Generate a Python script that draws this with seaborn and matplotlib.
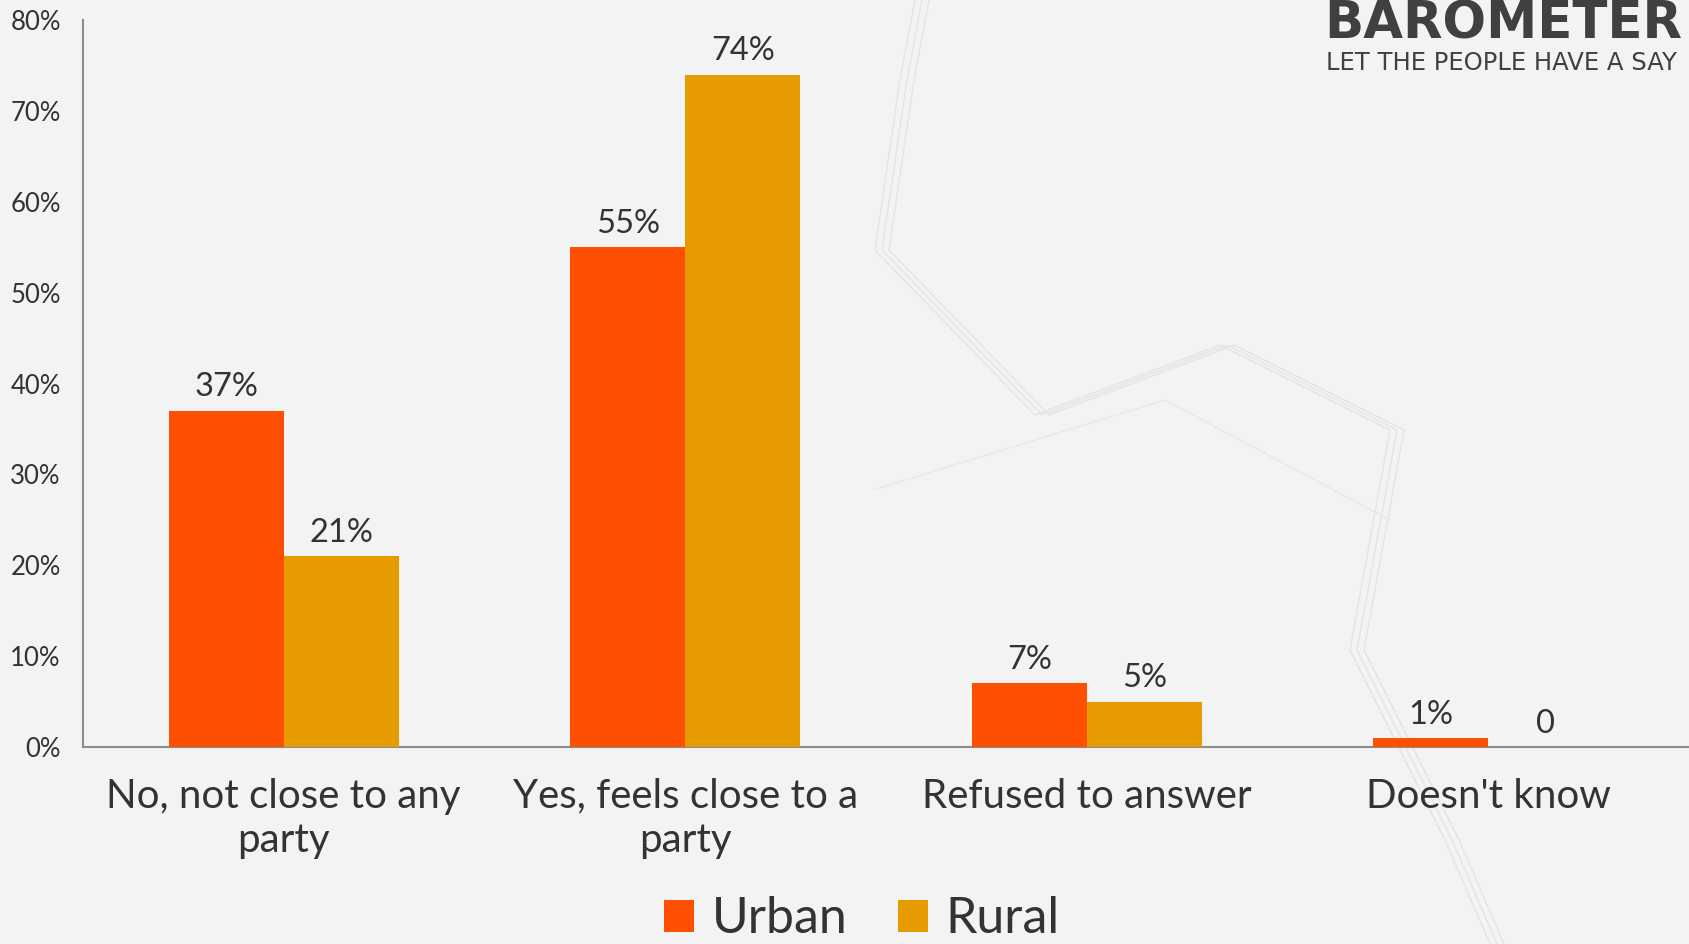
import pandas as pd
import numpy as np
import seaborn as sns
import matplotlib.pyplot as plt
from matplotlib.lines import Line2D
from matplotlib.patches import Patch

# Data
categories = ["No, not close to any\nparty", "Yes, feels close to a\nparty", "Refused to answer", "Doesn't know"]
urban = [0.37, 0.55, 0.07, 0.01]
rural = [0.21, 0.74, 0.05, 0.0]
urban_labels = ["37%", "55%", "7%", "1%"]
rural_labels = ["21%", "74%", "5%", "0"]
series = ["Urban", "Rural"]
colors = ["#FF4F00", "#E69B00"]

df = pd.DataFrame({
    "category": categories * 2,
    "value": urban + rural,
    "area": [series[0]] * 4 + [series[1]] * 4,
})

bg = "#f3f3f3"
text_col = "#333333"
sns.set_style("white")
plt.rcParams["font.family"] = ["Lato", "DejaVu Sans"]

fig = plt.figure(figsize=(16.9, 9.44), dpi=100, facecolor=bg)
ax = fig.add_axes([0.0491, 0.2087, 0.9503, 0.7701])
ax.set_facecolor("none")

# faint decorative background lines
for dx in (0, 7, 14):
    pts_x = np.array([915, 900, 875, 1035, 1220, 1390, 1350, 1445, 1490]) + dx
    pts_y = np.array([0, 80, 250, 415, 345, 430, 650, 840, 944])
    fig.add_artist(Line2D(pts_x / 1690, 1 - pts_y / 944, color="#e4e4e4", lw=1.0, zorder=0))
fig.add_artist(Line2D(np.array([873, 1165, 1390]) / 1690, 1 - np.array([490, 400, 520]) / 944,
                      color="#e8e8e8", lw=1.0, zorder=0))

sns.barplot(data=df, x="category", y="value", hue="area", palette=colors,
            width=0.573, dodge=True, ax=ax, saturation=1, legend=False, zorder=3,
            linewidth=0)

for cont, labs in zip(ax.containers, [urban_labels, rural_labels]):
    ax.bar_label(cont, labels=labs, padding=6, fontsize=23.5, color=text_col)

ax.set_xlim(-0.5, 3.5)
ax.set_ylim(0, 0.8)
ax.set_yticks(np.arange(0, 0.81, 0.1))
ax.set_yticklabels([f"{int(round(v * 100))}%" for v in np.arange(0, 0.81, 0.1)],
                   fontsize=18.5, color=text_col)
ax.set_xticks(range(4))
ax.set_xticklabels(categories, fontsize=29, color=text_col, linespacing=1.25)
ax.set_xticks(np.arange(-0.5, 3.6, 1), minor=True)
ax.tick_params(axis="x", which="major", length=0, pad=22)
ax.tick_params(axis="x", which="minor", length=12, width=1.5, color="#8c8c8c", direction="out")
ax.tick_params(axis="y", which="major", length=8, width=1.5, color="#8c8c8c", direction="out", pad=8)
ax.set_xlabel("")
ax.set_ylabel("")
for side in ["top", "right"]:
    ax.spines[side].set_visible(False)
for side in ["left", "bottom"]:
    ax.spines[side].set_color("#8c8c8c")
    ax.spines[side].set_linewidth(1.5)

handles = [Patch(facecolor=c, edgecolor="none") for c in colors]
fig.legend(handles, series, loc="center", bbox_to_anchor=(0.51, 0.026), ncol=2,
           frameon=False, fontsize=36, handlelength=0.6, handleheight=0.6,
           handletextpad=0.35, columnspacing=1.0, labelcolor=text_col)

# logo text in the top right corner
fig.text(0.7835, 0.9597, "BAROMETER", fontsize=37, fontweight="bold", color="#404040",
         ha="left", va="baseline", family=["DejaVu Sans"])
fig.text(0.7845, 0.926, "LET THE PEOPLE HAVE A SAY", fontsize=17.5, color="#404040",
         ha="left", va="baseline", family=["DejaVu Sans"])

fig.savefig("out.png", dpi=100, facecolor=bg)
